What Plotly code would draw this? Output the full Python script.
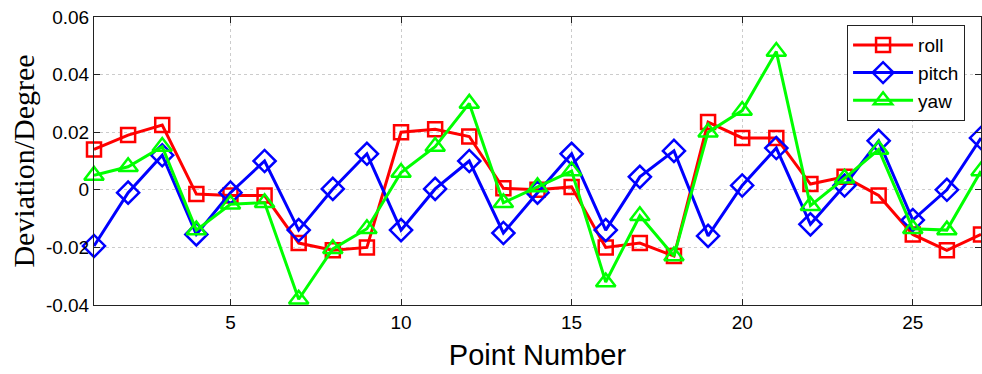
import plotly.graph_objects as go

points = list(range(1, 28))
roll = [0.014, 0.019, 0.0225, -0.0015, -0.002, -0.002, -0.0185, -0.021, -0.020, 0.020,
        0.021, 0.0185, 0.0005, 0.0, 0.001, -0.020, -0.0185, -0.023, 0.0235, 0.018,
        0.018, 0.002, 0.0045, -0.002, -0.0155, -0.021, -0.0155]
pitch = [-0.0195, -0.001, 0.012, -0.0155, -0.001, 0.010, -0.014, 0.0003, 0.0125, -0.014,
         0.0003, 0.010, -0.015, -0.001, 0.0125, -0.014, 0.0045, 0.0135, -0.016, 0.0015,
         0.0145, -0.012, 0.0015, 0.017, -0.0105, 0.0, 0.018]
yaw = [0.005, 0.008, 0.015, -0.014, -0.005, -0.0045, -0.038, -0.0205, -0.0135, 0.006,
       0.015, 0.030, -0.0045, 0.001, 0.0065, -0.032, -0.009, -0.023, 0.020, 0.0275,
       0.048, -0.0055, 0.004, 0.014, -0.0135, -0.014, 0.0065]

x_ticks = [5, 10, 15, 20, 25]
y_ticks = [-0.04, -0.02, 0, 0.02, 0.04, 0.06]
y_tick_text = ["-0.04", "-0.02", "0", "0.02", "0.04", "0.06"]

series = [
    ("roll", roll, "#ff0000", "square-open", 14),
    ("pitch", pitch, "#0000ff", "diamond-open", 17),
    ("yaw", yaw, "#00ff00", "triangle-up-open", 17),
]

fig = go.Figure()
for name, vals, color, sym, size in series:
    fig.add_trace(go.Scatter(
        x=points, y=vals, name=name, mode="lines+markers",
        line=dict(color=color, width=3),
        marker=dict(symbol=sym, size=size, color=color, line=dict(color=color, width=2.5)),
        cliponaxis=False,
    ))

axis_common = dict(
    showline=True, linecolor="#222222", linewidth=1, mirror="ticks",
    ticks="inside", ticklen=6, tickcolor="#222222",
    showgrid=True, gridcolor="#cccccc", griddash="dot", gridwidth=1,
    zeroline=False,
    tickfont=dict(family="Liberation Sans, Arial, sans-serif", size=19, color="black"),
)

fig.update_layout(
    width=982, height=374,
    margin=dict(l=94, r=1, t=17, b=69),
    paper_bgcolor="white", plot_bgcolor="white",
    xaxis=dict(range=[1, 27], tickvals=x_ticks,
               title=dict(text="Point Number", standoff=12,
                          font=dict(family="Liberation Sans, Arial, sans-serif", size=29, color="black")),
               **axis_common),
    yaxis=dict(range=[-0.04, 0.06], tickvals=y_ticks, ticktext=y_tick_text,
               title=dict(text="Deviation/Degree", standoff=2,
                          font=dict(family="Liberation Serif, Times New Roman, serif", size=30, color="black")),
               **axis_common),
    legend=dict(x=0.849, y=0.972, xanchor="left", yanchor="top",
                bordercolor="#222222", borderwidth=1, bgcolor="white",
                font=dict(family="Liberation Sans, Arial, sans-serif", size=19, color="black"),
                tracegroupgap=0, itemwidth=60),
    showlegend=True,
)

fig.write_html("out.html", config={"displayModeBar": False},
               post_script="document.body.style.margin='0px';")
